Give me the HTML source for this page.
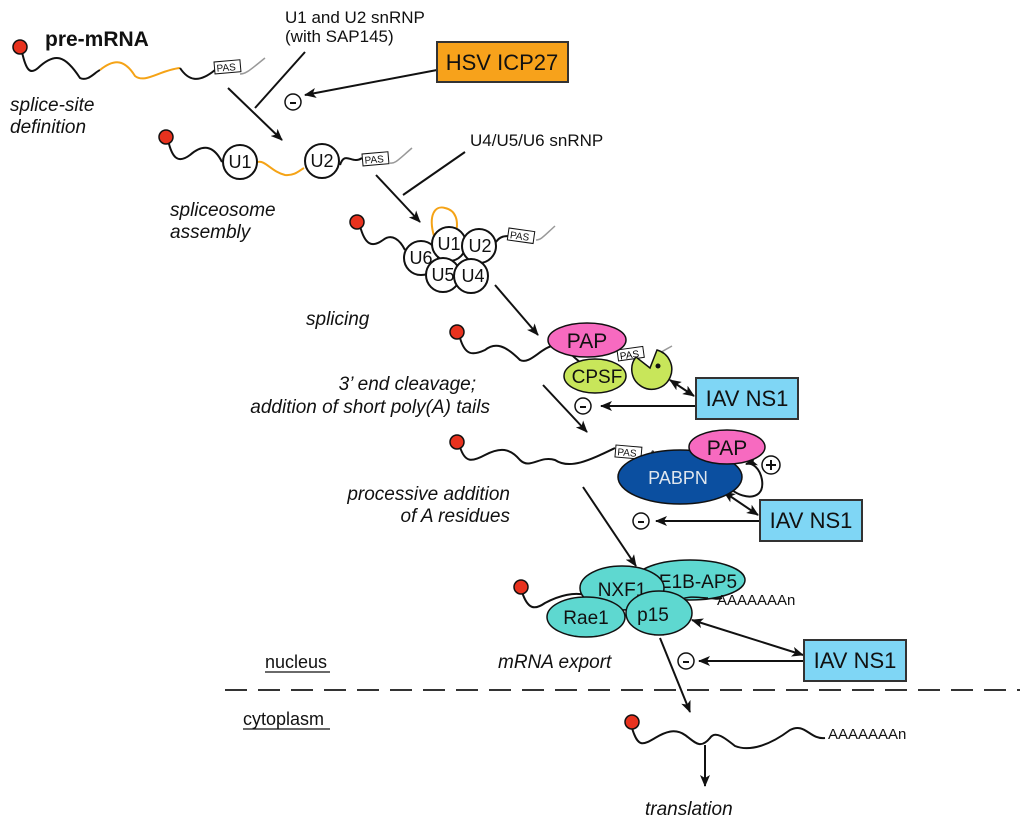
<!DOCTYPE html>
<html><head><meta charset="utf-8"><style>
html,body{margin:0;padding:0;background:#fff;}
svg{display:block;font-family:"Liberation Sans",Arial,sans-serif;}
.it{font-style:italic;font-size:19px;fill:#111;}
</style></head><body>
<svg width="1024" height="831" viewBox="0 0 1024 831" xmlns="http://www.w3.org/2000/svg">
<defs>
<marker id="ah" markerWidth="12" markerHeight="10" refX="11" refY="5" orient="auto" markerUnits="userSpaceOnUse">
<path d="M0,0 L12,5 L0,10 L3,5 z" fill="#111"/></marker>
<marker id="ahs" markerWidth="12" markerHeight="10" refX="1" refY="5" orient="auto" markerUnits="userSpaceOnUse">
<path d="M12,0 L0,5 L12,10 L9,5 z" fill="#111"/></marker>
</defs>
<g fill="none" stroke="#111" stroke-width="2">
<path d="M22,52 C26,70 30,75 38,68 C55,52 65,55 80,78 C88,82 95,72 100,70"/>
<path d="M100,70 C115,58 125,60 135,76 C145,84 160,70 180,68" stroke="#f5a316"/>
<path d="M180,68 C188,80 198,84 215,70"/>
<path d="M240,74 C246,74 250,70 265,58" stroke="#999" stroke-width="1.5"/>
<path d="M168,140 C172,158 178,164 190,155 C205,142 215,148 222,162"/>
<path d="M258,162 C265,160 272,172 285,175 C295,176 300,170 304,168" stroke="#f5a316"/>
<path d="M340,165 C345,150 352,165 362,158"/>
<path d="M390,163 C395,164 398,160 412,148" stroke="#999" stroke-width="1.5"/>
<path d="M434,236 C428,215 435,205 445,208 C455,210 460,220 455,236" stroke="#f5a316"/>
<path d="M360,226 C365,245 372,248 383,240 C392,233 400,240 405,250"/>
<path d="M496,242 C500,236 505,236 510,236"/>
<path d="M536,240 C541,240 544,236 555,226" stroke="#999" stroke-width="1.5"/>
<path d="M460,338 C465,355 472,356 485,350 C495,342 505,345 520,360 C530,365 540,348 555,345 C565,345 570,355 580,362"/>
<path d="M655,357 C660,352 665,350 672,346" stroke="#999" stroke-width="1.5"/>
<path d="M460,447 C465,463 472,462 485,455 C500,447 510,448 520,460 C530,470 540,455 555,460 C570,470 590,460 615,448"/>
<path d="M522,592 C528,610 535,610 545,603 C560,595 575,592 585,595"/>
<path d="M708,598 C715,598 717,600 722,598"/>
<path d="M632,728 C638,748 643,745 655,738 C665,732 675,728 685,735 C695,742 700,750 710,738 C715,730 725,738 735,746 C750,752 770,745 790,730 C805,722 810,740 825,738"/>
<path d="M305,52 L255,108"/>
<path d="M228,88 L282,140" marker-end="url(#ah)"/>
<path d="M437,70 L305,95" marker-end="url(#ah)"/>
<path d="M465,152 L403,195"/>
<path d="M376,175 L420,222" marker-end="url(#ah)"/>
<path d="M495,285 L538,335" marker-end="url(#ah)"/>
<path d="M670,380 L694,396" marker-start="url(#ahs)" marker-end="url(#ah)"/>
<path d="M696,406 L601,406" marker-end="url(#ah)"/>
<path d="M543,385 L587,432" marker-end="url(#ah)"/>
<path d="M724,492 L758,515" marker-start="url(#ahs)" marker-end="url(#ah)"/>
<path d="M760,521 L656,521" marker-end="url(#ah)"/>
<path d="M732,490 C745,500 765,500 762,480 C760,468 752,462 746,464" marker-end="url(#ah)"/>
<path d="M583,487 L636,566" marker-end="url(#ah)"/>
<path d="M692,620 L803,655" marker-start="url(#ahs)" marker-end="url(#ah)"/>
<path d="M804,661 L699,661" marker-end="url(#ah)"/>
<path d="M660,638 L690,712" marker-end="url(#ah)"/>
<path d="M705,745 L705,786" marker-end="url(#ah)"/>
</g>
<line x1="225" y1="690" x2="1020" y2="690" stroke="#333" stroke-width="2" stroke-dasharray="22,11"/>
<g fill="#e8321e" stroke="#111" stroke-width="1.5">
<circle cx="20" cy="47" r="7"/><circle cx="166" cy="137" r="7"/><circle cx="357" cy="222" r="7"/>
<circle cx="457" cy="332" r="7"/><circle cx="457" cy="442" r="7"/><circle cx="521" cy="587" r="7"/><circle cx="632" cy="722" r="7"/>
</g>
<g font-size="10" fill="#111">
<g transform="translate(214,62) rotate(-5)"><rect width="26" height="12" fill="#fff" stroke="#111"/><text x="2" y="10">PAS</text></g>
<g transform="translate(362,154) rotate(-5)"><rect width="26" height="12" fill="#fff" stroke="#111"/><text x="2" y="10">PAS</text></g>
<g transform="translate(509,228) rotate(8)"><rect width="26" height="12" fill="#fff" stroke="#111"/><text x="2" y="10">PAS</text></g>
<g transform="translate(616,445) rotate(5)"><rect width="26" height="12" fill="#fff" stroke="#111"/><text x="2" y="10">PAS</text></g>
</g>
<g fill="#fff" stroke="#111" stroke-width="2">
<circle cx="240" cy="162" r="17"/><circle cx="322" cy="161" r="17"/>
<circle cx="421" cy="258" r="17"/><circle cx="449" cy="244" r="17"/><circle cx="479" cy="246" r="17"/>
<circle cx="443" cy="275" r="17"/><circle cx="471" cy="276" r="17"/>
</g>
<g font-size="18" fill="#111" text-anchor="middle">
<text x="240" y="168">U1</text><text x="322" y="167">U2</text>
<text x="421" y="264">U6</text><text x="449" y="250">U1</text><text x="480" y="252">U2</text>
<text x="443" y="281">U5</text><text x="473" y="282">U4</text>
</g>
<g transform="translate(617,350) rotate(-8)"><rect width="26" height="11" fill="#fff" stroke="#111"/><text x="2" y="10" font-size="10">PAS</text></g>
<ellipse cx="595" cy="376" rx="31" ry="17" fill="#c8e65a" stroke="#111" stroke-width="1.5"/>
<path d="M650,368 L636,357 A20,20 0 1 0 657,350 z" fill="#c8e65a" stroke="#111" stroke-width="1.5"/>
<circle cx="658" cy="366" r="2.5" fill="#111"/>
<ellipse cx="587" cy="340" rx="39" ry="17" fill="#f76ac0" stroke="#111" stroke-width="1.5"/>
<text x="587" y="348" font-size="21" text-anchor="middle" fill="#111">PAP</text>
<text x="597" y="383" font-size="19" text-anchor="middle" fill="#111">CPSF</text>
<text x="648" y="460" font-size="14" fill="#111">AAAA</text>
<ellipse cx="680" cy="477" rx="62" ry="27" fill="#0b4fa0" stroke="#111" stroke-width="1.5"/>
<text x="678" y="484" font-size="18" text-anchor="middle" fill="#dfe6ee">PABPN</text>
<ellipse cx="727" cy="447" rx="38" ry="17" fill="#f76ac0" stroke="#111" stroke-width="1.5"/>
<text x="727" y="455" font-size="21" text-anchor="middle" fill="#111">PAP</text>
<ellipse cx="690" cy="580" rx="55" ry="20" fill="#5ed8d0" stroke="#111" stroke-width="1.5"/>
<text x="698" y="588" font-size="19" text-anchor="middle" fill="#111">E1B-AP5</text>
<ellipse cx="622" cy="588" rx="42" ry="22" fill="#5ed8d0" stroke="#111" stroke-width="1.5"/>
<text x="622" y="596" font-size="19" text-anchor="middle" fill="#111">NXF1</text>
<path d="M680,600 C690,595 700,598 708,598" fill="none" stroke="#111" stroke-width="1.5"/>
<ellipse cx="659" cy="613" rx="33" ry="22" fill="#5ed8d0" stroke="#111" stroke-width="1.5"/>
<ellipse cx="586" cy="617" rx="39" ry="20" fill="#5ed8d0" stroke="#111" stroke-width="1.5"/>
<text x="586" y="624" font-size="19" text-anchor="middle" fill="#111">Rae1</text>
<text x="653" y="621" font-size="19" text-anchor="middle" fill="#111">p15</text>
<text x="717" y="605" font-size="15" fill="#111">AAAAAAAn</text>
<text x="828" y="739" font-size="15" fill="#111">AAAAAAAn</text>
<g fill="#fff" stroke="#111" stroke-width="1.5">
<circle cx="293" cy="102" r="8"/><circle cx="583" cy="406" r="8"/><circle cx="771" cy="465" r="9"/>
<circle cx="641" cy="521" r="8"/><circle cx="686" cy="661" r="8"/>
</g>
<g stroke="#111" stroke-width="2">
<line x1="290" y1="103" x2="296" y2="103"/><line x1="580" y1="407" x2="586" y2="407"/>
<line x1="638" y1="522" x2="644" y2="522"/><line x1="683" y1="662" x2="689" y2="662"/>
<line x1="766" y1="465" x2="776" y2="465"/><line x1="771" y1="460" x2="771" y2="470"/>
</g>
<rect x="437" y="42" width="131" height="40" fill="#f7a21b" stroke="#333" stroke-width="2"/>
<text x="502" y="70" font-size="22" text-anchor="middle" fill="#111">HSV ICP27</text>
<rect x="696" y="378" width="102" height="41" fill="#7fd6f5" stroke="#333" stroke-width="2"/>
<text x="747" y="406" font-size="22" text-anchor="middle" fill="#111">IAV NS1</text>
<rect x="760" y="500" width="102" height="41" fill="#7fd6f5" stroke="#333" stroke-width="2"/>
<text x="811" y="528" font-size="22" text-anchor="middle" fill="#111">IAV NS1</text>
<rect x="804" y="640" width="102" height="41" fill="#7fd6f5" stroke="#333" stroke-width="2"/>
<text x="855" y="668" font-size="22" text-anchor="middle" fill="#111">IAV NS1</text>
<text x="45" y="46" font-size="21" font-weight="bold" fill="#111">pre-mRNA</text>
<text x="285" y="23" font-size="17" fill="#111">U1 and U2 snRNP</text>
<text x="285" y="42" font-size="17" fill="#111">(with SAP145)</text>
<text x="470" y="146" font-size="17" fill="#111">U4/U5/U6 snRNP</text>
<text class="it" x="10" y="111">splice-site</text>
<text class="it" x="10" y="133">definition</text>
<text class="it" x="170" y="216">spliceosome</text>
<text class="it" x="170" y="238">assembly</text>
<text class="it" x="306" y="325">splicing</text>
<text class="it" x="476" y="390" text-anchor="end">3’ end cleavage;</text>
<text class="it" x="490" y="413" text-anchor="end">addition of short poly(A) tails</text>
<text class="it" x="510" y="500" text-anchor="end">processive addition</text>
<text class="it" x="510" y="522" text-anchor="end">of A residues</text>
<text class="it" x="498" y="668">mRNA export</text>
<text class="it" x="645" y="815">translation</text>
<text x="265" y="668" font-size="18" fill="#111">nucleus</text>
<line x1="265" y1="672" x2="330" y2="672" stroke="#111" stroke-width="1.2"/>
<text x="243" y="725" font-size="18" fill="#111">cytoplasm</text>
<line x1="243" y1="729" x2="330" y2="729" stroke="#111" stroke-width="1.2"/>
</svg>
</body></html>
